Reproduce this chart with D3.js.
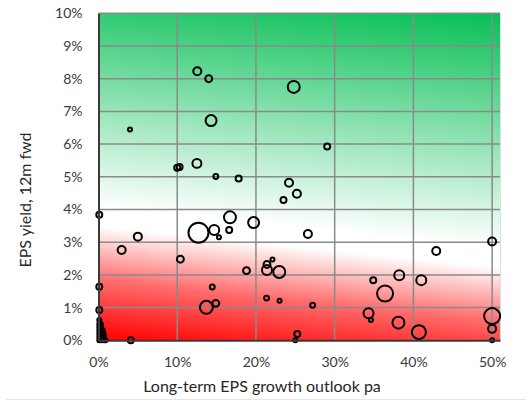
<!DOCTYPE html>
<html>
<head>
<meta charset="utf-8">
<script src="https://cdn.jsdelivr.net/npm/d3@7"></script>
<style>
  html, body { margin: 0; padding: 0; background: #fff; }
  svg { display: block; font-family: Lato, "Open Sans", sans-serif; }
</style>
</head>
<body>
<svg id="chart" width="526" height="401"></svg>
<script>
// Long-term EPS growth outlook (% pa), clipped at 50%
const growth = [
  4.0, 10.0, 10.3, 12.55, 14.0, 14.3, 24.8, 29.05, 12.5, 14.9,
  17.8, 24.2, 25.2, 23.5, 16.7, 12.7, 14.7, 15.3, 16.6, 19.7,
  26.6, 10.4, 18.8, 21.4, 22.1, 21.4, 22.96, 14.45, 13.7, 14.9,
  21.35, 23.0, 27.2, 25.25, 25.0, 0.1, 2.94, 5.0, 0.1, 0.1,
  0.1, 4.1, 50, 42.9, 38.2, 34.9, 41.0, 36.4, 34.3, 34.6,
  38.1, 40.7, 50, 50, 50,
  0.1, 0.4, 0.7, 0.9, 0.1, 0.4, 0.7, 0.1, 0.4, 0.65,
  0.1, 0.35, 0.55, 0.1, 0.35, 0.1, 0.3
];
// EPS yield, 12m forward (%)
const epsYield = [
  6.45, 5.28, 5.30, 8.23, 8.0, 6.72, 7.75, 5.93, 5.41, 5.01,
  4.95, 4.82, 4.48, 4.29, 3.76, 3.29, 3.37, 3.15, 3.37, 3.6,
  3.25, 2.48, 2.13, 2.32, 2.47, 2.15, 2.09, 1.63, 1.01, 1.13,
  1.29, 1.21, 1.07, 0.19, 0.0, 3.84, 2.76, 3.17, 1.64, 0.93,
  0.62, 0.0, 3.02, 2.73, 1.99, 1.84, 1.84, 1.43, 0.83, 0.62,
  0.54, 0.25, 0.74, 0.35, 0.0,
  0.0, 0.0, 0.0, 0.0, 0.1, 0.1, 0.1, 0.2, 0.2, 0.2,
  0.3, 0.3, 0.3, 0.4, 0.4, 0.5, 0.5
];
// Relative company weight (bubble area)
const weight = [
  4, 9, 9, 16, 12, 30, 36, 9, 20, 6,
  9, 16, 16, 9, 36, 100, 25, 4, 9, 30,
  16, 12, 12, 12, 4, 25, 36, 6, 42, 12,
  6, 4, 6, 9, 4, 9, 16, 16, 9, 9,
  4, 9, 16, 16, 25, 9, 25, 64, 25, 4,
  36, 49, 64, 16, 4,
  4, 4, 4, 4, 4, 4, 4, 4, 4, 4,
  4, 4, 4, 4, 4, 4, 4
];
const xTicks = [0, 10, 20, 30, 40, 50];
const yTicks = [0, 1, 2, 3, 4, 5, 6, 7, 8, 9, 10];
const xTitle = "Long-term EPS growth outlook pa";
const yTitle = "EPS yield, 12m fwd";

const points = growth.map((g, i) => ({ g, y: epsYield[i], w: weight[i] }));

const svg = d3.select("#chart");
const plotL = 98.5, plotR = 500, plotT = 13.3, plotB = 340.3;

const x = d3.scaleLinear().domain([0, 51]).range([plotL, plotR]);
const y = d3.scaleLinear().domain([0, 10]).range([plotB, plotT]);
const r = d3.scaleSqrt().domain([0, 100]).range([0, 10]);

// Background: red (low yield) through white to green (high yield), slightly tilted
const defs = svg.append("defs");
const dir = [0.103, -0.995];
const span = 366.8;
const grad = defs.append("linearGradient")
  .attr("id", "bg")
  .attr("gradientUnits", "userSpaceOnUse")
  .attr("x1", plotL).attr("y1", plotB)
  .attr("x2", plotL + dir[0] * span).attr("y2", plotB + dir[1] * span);
[
  [0.00, "#ff0000"],
  [0.16, "#ff6a6a"],
  [0.31, "#ffffff"],
  [0.36, "#ffffff"],
  [1.00, "#06bf55"]
].forEach(([o, c]) => grad.append("stop").attr("offset", o).attr("stop-color", c));

svg.append("rect")
  .attr("x", plotL).attr("y", plotT)
  .attr("width", plotR - plotL).attr("height", plotB - plotT)
  .attr("fill", "url(#bg)");

// Grid
const grid = svg.append("g").attr("stroke", "#8a8a8a").attr("stroke-width", 1.5);
grid.selectAll("line.h").data(yTicks.slice(1)).join("line")
  .attr("class", "h")
  .attr("x1", plotL).attr("x2", plotR)
  .attr("y1", d => y(d)).attr("y2", d => y(d));
grid.selectAll("line.v").data(xTicks.slice(1)).join("line")
  .attr("class", "v")
  .attr("y1", plotT).attr("y2", plotB)
  .attr("x1", d => x(d)).attr("x2", d => x(d));

// Right border of plot area
svg.append("line")
  .attr("x1", plotR + 0.5).attr("x2", plotR + 0.5)
  .attr("y1", plotT).attr("y2", plotB)
  .attr("stroke", "#d3deeb").attr("stroke-width", 1);

// Bubbles
svg.append("g").selectAll("circle").data(points).join("circle")
  .attr("cx", d => x(d.g))
  .attr("cy", d => y(d.y))
  .attr("r", d => r(d.w))
  .attr("fill", "none")
  .attr("stroke", "#000")
  .attr("stroke-width", 2);

// Axes
const xAxis = d3.axisBottom(x).tickValues(xTicks).tickSize(0).tickPadding(17)
  .tickFormat(d => d + "%");
const yAxis = d3.axisLeft(y).tickValues(yTicks).tickSize(0).tickPadding(16)
  .tickFormat(d => d + "%");

const gx = svg.append("g").attr("transform", `translate(0,${plotB})`).call(xAxis);
const gy = svg.append("g").attr("transform", `translate(${plotL},0)`).call(yAxis);
[gx, gy].forEach(g => {
  g.select(".domain").attr("stroke", "#3a3a3a").attr("stroke-width", 2);
  g.selectAll("text").attr("font-family", "Lato, sans-serif")
    .attr("font-size", 14).attr("fill", "#3a3a3a");
});

svg.append("text")
  .attr("x", 262).attr("y", 392)
  .attr("text-anchor", "middle")
  .attr("font-size", 16).attr("fill", "#262626")
  .text(xTitle);

svg.append("text")
  .attr("transform", "translate(31,200) rotate(-90)")
  .attr("text-anchor", "middle")
  .attr("font-size", 16).attr("fill", "#262626")
  .text(yTitle);

// Figure frame line at the bottom
svg.append("line")
  .attr("x1", 6).attr("x2", 526).attr("y1", 399.5).attr("y2", 399.5)
  .attr("stroke", "#e6e6e6").attr("stroke-width", 1);
</script>
</body>
</html>
